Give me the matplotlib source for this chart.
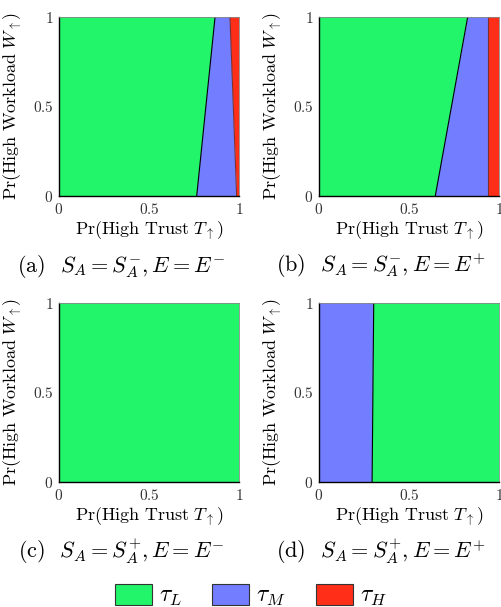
import matplotlib
matplotlib.use("Agg")
import matplotlib.pyplot as plt
from matplotlib.patches import Polygon, Patch
from matplotlib.ticker import FixedLocator, FixedFormatter

plt.rcParams['mathtext.fontset'] = 'cm'
plt.rcParams['font.family'] = 'serif'
plt.rcParams['font.serif'] = ['cmr10', 'DejaVu Serif']
plt.rcParams['axes.unicode_minus'] = False

# Boundaries: x positions (Pr high trust) at W=0 and W=1 of region switches
panel_a_bounds_w0 = [0.0, 0.765, 0.987, 1.0]
panel_a_bounds_w1 = [0.0, 0.867, 0.950, 1.0]
panel_a_regions = ['L', 'M', 'H']

panel_b_bounds_w0 = [0.0, 0.646, 0.94, 1.0]
panel_b_bounds_w1 = [0.0, 0.826, 0.94, 1.0]
panel_b_regions = ['L', 'M', 'H']

panel_c_bounds_w0 = [0.0, 1.0]
panel_c_bounds_w1 = [0.0, 1.0]
panel_c_regions = ['L']

panel_d_bounds_w0 = [0.0, 0.295, 1.0]
panel_d_bounds_w1 = [0.0, 0.304, 1.0]
panel_d_regions = ['M', 'L']

captions = [r'(a)  $S_A = S_A^{-}, E = E^{-}$', r'(b)  $S_A = S_A^{-}, E = E^{+}$',
            r'(c)  $S_A = S_A^{+}, E = E^{-}$', r'(d)  $S_A = S_A^{+}, E = E^{+}$']
tick_vals = [0, 0.5, 1]
tick_labels = ['$0$', '$0.5$', '$1$']

colors = {'L': '#22F56A', 'M': '#727DFF', 'H': '#FF2E18'}
legend_labels = {'L': r'$\tau_L$', 'M': r'$\tau_M$', 'H': r'$\tau_H$'}

W, H = 502, 607
fig = plt.figure(figsize=(W / 100, H / 100), dpi=100)

panels = [
    (panel_a_bounds_w0, panel_a_bounds_w1, panel_a_regions),
    (panel_b_bounds_w0, panel_b_bounds_w1, panel_b_regions),
    (panel_c_bounds_w0, panel_c_bounds_w1, panel_c_regions),
    (panel_d_bounds_w0, panel_d_bounds_w1, panel_d_regions),
]
# pixel boxes: left, top, width, height
boxes = [(59, 17, 180, 179), (319, 17, 180, 179), (59, 303, 180, 179), (319, 303, 180, 179)]
caption_pos = [(121, 266), (381, 266), (121, 551), (381, 551)]

for (b0, b1, regs), (lx, ty, bw, bh), cap, (cx, cy) in zip(panels, boxes, captions, caption_pos):
    ax = fig.add_axes([lx / W, 1 - (ty + bh) / H, bw / W, bh / H])
    for i, r in enumerate(regs):
        poly = Polygon([(b0[i], 0), (b0[i + 1], 0), (b1[i + 1], 1), (b1[i], 1)],
                       closed=True, facecolor=colors[r], edgecolor='none')
        ax.add_patch(poly)
    for i in range(1, len(b0) - 1):
        lc = 'black' if 'L' in (regs[i - 1], regs[i]) else '#7a3030'
        ax.plot([b0[i], b1[i]], [0, 1], color=lc, lw=0.8)
    ax.set_xlim(0, 1)
    ax.set_ylim(0, 1)
    for s in ['top', 'right']:
        ax.spines[s].set_color('#888888')
        ax.spines[s].set_linewidth(0.6)
    for s in ['left', 'bottom']:
        ax.spines[s].set_color('black')
        ax.spines[s].set_linewidth(1.0)
    ax.xaxis.set_major_locator(FixedLocator(tick_vals))
    ax.xaxis.set_major_formatter(FixedFormatter(tick_labels))
    ax.yaxis.set_major_locator(FixedLocator(tick_vals))
    ax.yaxis.set_major_formatter(FixedFormatter(tick_labels))
    ax.tick_params(length=0, labelsize=11, colors='#333333', pad=4)
    ax.set_xlabel(r'$\mathrm{Pr}\left(\mathrm{High\ Trust}\ T_{\uparrow}\right)$', fontsize=13, labelpad=2)
    ax.set_ylabel(r'$\mathrm{Pr}\left(\mathrm{High\ Workload}\ W_{\uparrow}\right)$', fontsize=13, labelpad=6)
    fig.text(cx / W, 1 - cy / H, cap, ha='center', va='center', fontsize=16)

handles = [Patch(facecolor=colors[k], edgecolor='#333333', lw=0.8, label=legend_labels[k]) for k in ['L', 'M', 'H']]
fig.legend(handles=handles, loc='center', bbox_to_anchor=(0.5, 1 - 596 / H), ncol=3, frameon=False,
           fontsize=17, handlelength=1.55, handleheight=1.0, columnspacing=1.3, handletextpad=0.3,
           borderpad=0.0)

fig.savefig('out.png', dpi=100)
